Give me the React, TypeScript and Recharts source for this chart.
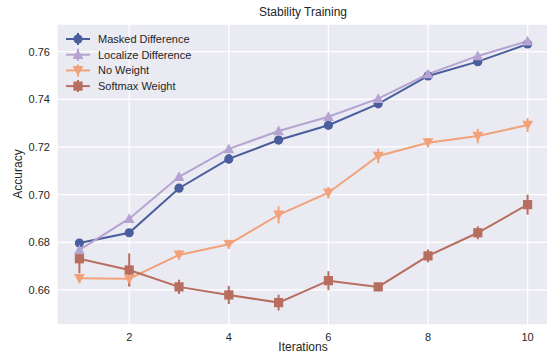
import React from "react";
import {
  CartesianGrid,
  ComposedChart,
  ErrorBar,
  Legend,
  Line,
  XAxis,
  YAxis,
} from "recharts";

const iterations = [1, 2, 3, 4, 5, 6, 7, 8, 9, 10];

const masked = [0.6797, 0.684, 0.7027, 0.715, 0.7229, 0.7291, 0.7381, 0.7498, 0.7558, 0.7632];
const maskedErr = [0.001, 0.001, 0.001, 0.002, 0.0015, 0.001, 0.001, 0.001, 0.001, 0.0015];

const localize = [0.6768, 0.6899, 0.7075, 0.7192, 0.7267, 0.7327, 0.7403, 0.7506, 0.7582, 0.7644];
const localizeErr = [0.0008, 0.0008, 0.0008, 0.0008, 0.0008, 0.0008, 0.0008, 0.0008, 0.0008, 0.0008];

const noWeight = [0.6649, 0.6647, 0.6747, 0.6792, 0.6915, 0.7008, 0.7162, 0.7218, 0.7246, 0.7292];
const noWeightErr = [0.002, 0.0029, 0.002, 0.0019, 0.0036, 0.0024, 0.003, 0.002, 0.003, 0.0029];

const softmax = [0.6731, 0.6684, 0.6613, 0.6579, 0.6547, 0.6639, 0.6613, 0.6743, 0.684, 0.6958];
const softmaxErr = [0.006, 0.007, 0.003, 0.0038, 0.0033, 0.004, 0.0008, 0.0027, 0.0027, 0.0042];

const xTicks = [2, 4, 6, 8, 10];
const yTicks = [0.66, 0.68, 0.7, 0.72, 0.74, 0.76];

const FONT = '"Liberation Sans", Arial, sans-serif';
const TEXT = "#262626";

type Marker = "circle" | "up" | "down" | "square";

const SERIES: { key: string; name: string; color: string; marker: Marker }[] = [
  { key: "masked", name: "Masked Difference", color: "#4a5d9c", marker: "circle" },
  { key: "localize", name: "Localize Difference", color: "#b5a3d2", marker: "up" },
  { key: "noWeight", name: "No Weight", color: "#f2a27a", marker: "down" },
  { key: "softmax", name: "Softmax Weight", color: "#b86e5f", marker: "square" },
];

const data = iterations.map((it, i) => ({
  it,
  masked: masked[i],
  maskedErr: maskedErr[i],
  localize: localize[i],
  localizeErr: localizeErr[i],
  noWeight: noWeight[i],
  noWeightErr: noWeightErr[i],
  softmax: softmax[i],
  softmaxErr: softmaxErr[i],
}));

function markerShape(marker: Marker, cx: number, cy: number, color: string, key?: string) {
  if (marker === "circle") return <circle key={key} cx={cx} cy={cy} r={4.6} fill={color} />;
  if (marker === "square")
    return <rect key={key} x={cx - 4.6} y={cy - 4.6} width={9.2} height={9.2} fill={color} />;
  const s = 5.4;
  const pts =
    marker === "up"
      ? `${cx},${cy - s} ${cx - s},${cy + s * 0.8} ${cx + s},${cy + s * 0.8}`
      : `${cx},${cy + s} ${cx - s},${cy - s * 0.8} ${cx + s},${cy - s * 0.8}`;
  return <polygon key={key} points={pts} fill={color} />;
}

function LegendBox() {
  return (
    <svg width={200} height={70} style={{ overflow: "visible" }}>
      {SERIES.map((s, i) => {
        const y = 8 + i * 15.7;
        return (
          <g key={s.key}>
            <line x1={0} x2={24} y1={y} y2={y} stroke={s.color} strokeWidth={2} />
            <line x1={12} x2={12} y1={y - 6} y2={y + 6} stroke={s.color} strokeWidth={2} />
            {markerShape(s.marker, 12, y, s.color)}
            <text x={32} y={y + 4} fontSize={11} fill={TEXT} fontFamily={FONT}>
              {s.name}
            </text>
          </g>
        );
      })}
    </svg>
  );
}

export default function App() {
  return (
    <div
      style={{
        position: "absolute",
        left: 0,
        top: 0,
        width: 547,
        height: 355,
        overflow: "hidden",
        background: "#fff",
        fontFamily: FONT,
      }}
    >
      <ComposedChart
        width={560}
        height={355}
        data={data}
        margin={{ top: 24, right: 10, bottom: 0, left: 0 }}
      >
        <CartesianGrid fill="#eaeaf2" stroke="#ffffff" strokeWidth={1.3} />
        <XAxis
          dataKey="it"
          type="number"
          domain={[0.55, 10.45]}
          ticks={xTicks}
          allowDataOverflow
          axisLine={false}
          tickLine={false}
          tickSize={0}
          tickMargin={8}
          height={30}
          tick={{ fontSize: 11, fill: TEXT, fontFamily: FONT }}
        />
        <YAxis
          type="number"
          domain={[0.6453, 0.7716]}
          ticks={yTicks}
          allowDataOverflow
          axisLine={false}
          tickLine={false}
          tickSize={0}
          tickMargin={7}
          width={57}
          tickFormatter={(v: number) => v.toFixed(2)}
          tick={{ fontSize: 11, fill: TEXT, fontFamily: FONT }}
        />
        <Legend
          layout="vertical"
          align="center"
          verticalAlign="middle"
          wrapperStyle={{ left: 66, top: 31, width: 200, height: 70 }}
          content={() => <LegendBox />}
        />
        {SERIES.map((s) => (
          <Line
            key={s.key}
            type="linear"
            dataKey={s.key}
            name={s.name}
            stroke={s.color}
            strokeWidth={2}
            isAnimationActive={false}
            activeDot={false}
            dot={(p: any) => markerShape(s.marker, p.cx, p.cy, s.color, `${s.key}-${p.index}`)}
          >
            <ErrorBar dataKey={`${s.key}Err`} width={0} stroke={s.color} strokeWidth={2} direction="y" />
          </Line>
        ))}
      </ComposedChart>
      <div
        style={{
          position: "absolute",
          left: 203,
          width: 200,
          top: 5,
          textAlign: "center",
          fontSize: 12,
          color: TEXT,
        }}
      >
        Stability Training
      </div>
      <div
        style={{
          position: "absolute",
          left: 203,
          width: 200,
          top: 340,
          textAlign: "center",
          fontSize: 12,
          lineHeight: "14px",
          color: TEXT,
        }}
      >
        Iterations
      </div>
      <div
        style={{
          position: "absolute",
          left: -32,
          top: 167,
          width: 100,
          textAlign: "center",
          fontSize: 12,
          color: TEXT,
          transform: "rotate(-90deg)",
        }}
      >
        Accuracy
      </div>
    </div>
  );
}
